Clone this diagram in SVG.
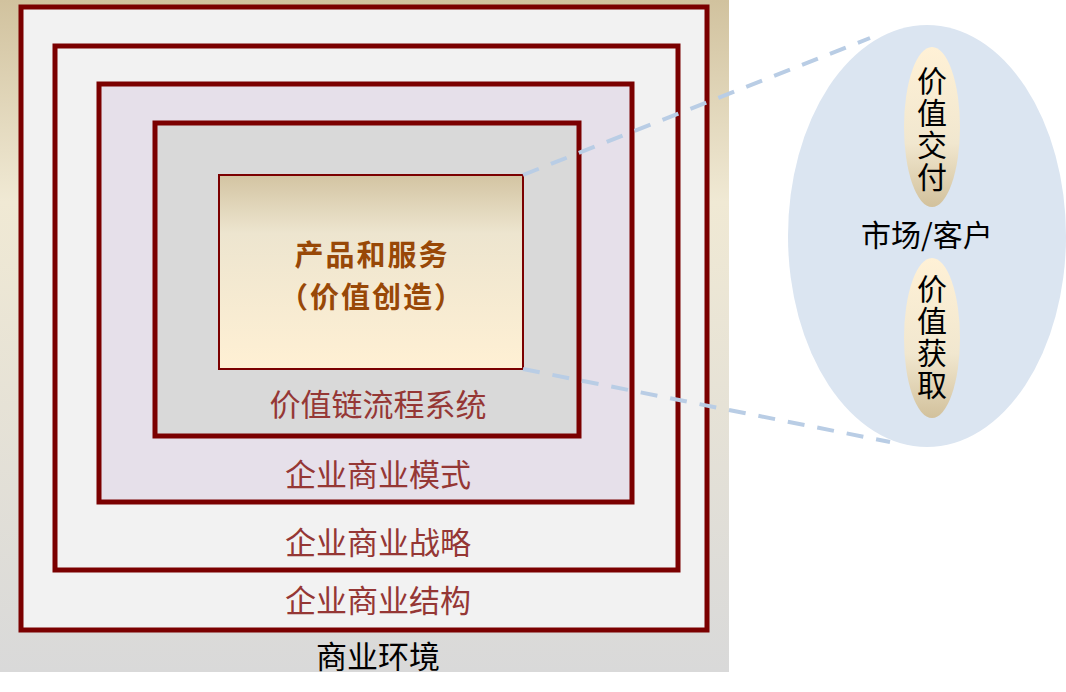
<svg xmlns="http://www.w3.org/2000/svg" width="1066" height="692" viewBox="0 0 1066 692">
  <defs>
    <linearGradient id="bgGrad" x1="0" y1="0" x2="0" y2="1">
      <stop offset="0" stop-color="#d1c29e"/>
      <stop offset="0.3" stop-color="#f0e9d4"/>
      <stop offset="1" stop-color="#d9d9d9"/>
    </linearGradient>
    <linearGradient id="coreGrad" x1="0" y1="0" x2="0" y2="1">
      <stop offset="0" stop-color="#d3c4a2"/>
      <stop offset="0.3" stop-color="#ede5cf"/>
      <stop offset="1" stop-color="#fff0d4"/>
    </linearGradient>
    <linearGradient id="pillGrad" x1="0" y1="0" x2="0" y2="1">
      <stop offset="0" stop-color="#fff1d6"/>
      <stop offset="0.6" stop-color="#f1e7cf"/>
      <stop offset="1" stop-color="#d2c19c"/>
    </linearGradient>
    <style>
      .frame { stroke: #7b0000; stroke-width: 5; }
      .lbl { font-family: "Noto Sans CJK SC", "Noto Sans", sans-serif; font-size: 31px; fill: #953735; text-anchor: middle; }
      .blk { font-family: "Noto Sans CJK SC", "Noto Sans", sans-serif; font-size: 30px; fill: #000000; text-anchor: middle; }
      .vert { font-family: "Noto Sans CJK SC", "Noto Sans", sans-serif; font-size: 30px; fill: #000000; text-anchor: middle; writing-mode: vertical-rl; letter-spacing: 2px; }
      .core { font-family: "Noto Sans CJK SC", "Noto Sans", sans-serif; font-size: 29px; font-weight: bold; fill: #984807; text-anchor: middle; letter-spacing: 2px; }
      .dash { stroke: #b9cde5; stroke-width: 4; stroke-dasharray: 17 13; fill: none; }
    </style>
  </defs>

  <g id="business-environment">
    <rect x="0" y="0" width="729" height="672" fill="url(#bgGrad)"/>
    <text class="blk" x="378" y="668" style="font-size:31px">商业环境</text>
  </g>

  <g id="business-structure">
    <rect class="frame" x="21" y="7" width="686" height="623" fill="#f2f2f2"/>
    <text class="lbl" x="378" y="612">企业商业结构</text>
  </g>

  <g id="business-strategy">
    <rect class="frame" x="55" y="46" width="623" height="524" fill="#f2f2f2"/>
    <text class="lbl" x="378" y="554">企业商业战略</text>
  </g>

  <g id="business-model">
    <rect class="frame" x="99" y="84" width="533" height="418" fill="#e6e0ea"/>
    <text class="lbl" x="378" y="486">企业商业模式</text>
  </g>

  <g id="value-chain">
    <rect class="frame" x="155" y="123" width="424" height="313" fill="#d9d9d9"/>
    <text class="lbl" x="378" y="416">价值链流程系统</text>
  </g>

  <g id="products-services">
    <rect x="219" y="175" width="304" height="194" fill="url(#coreGrad)" stroke="#7b0000" stroke-width="2"/>
    <text class="core" x="372" y="266">产品和服务<tspan x="372" dy="42">（价值创造）</tspan></text>
  </g>

  <g id="connectors">
    <line class="dash" x1="523" y1="175" x2="870" y2="38"/>
    <line class="dash" x1="523" y1="369" x2="890" y2="442"/>
  </g>

  <g id="market-customer">
    <ellipse cx="927" cy="236" rx="139" ry="211" fill="#dbe5f1"/>
    <text class="blk" x="927" y="246">市场/客户</text>
  </g>

  <g id="value-delivery">
    <ellipse cx="932" cy="127" rx="28" ry="80" fill="url(#pillGrad)"/>
    <text class="vert" x="932" y="130">价值交付</text>
  </g>

  <g id="value-capture">
    <ellipse cx="932" cy="338" rx="28" ry="80" fill="url(#pillGrad)"/>
    <text class="vert" x="932" y="338">价值获取</text>
  </g>
</svg>
